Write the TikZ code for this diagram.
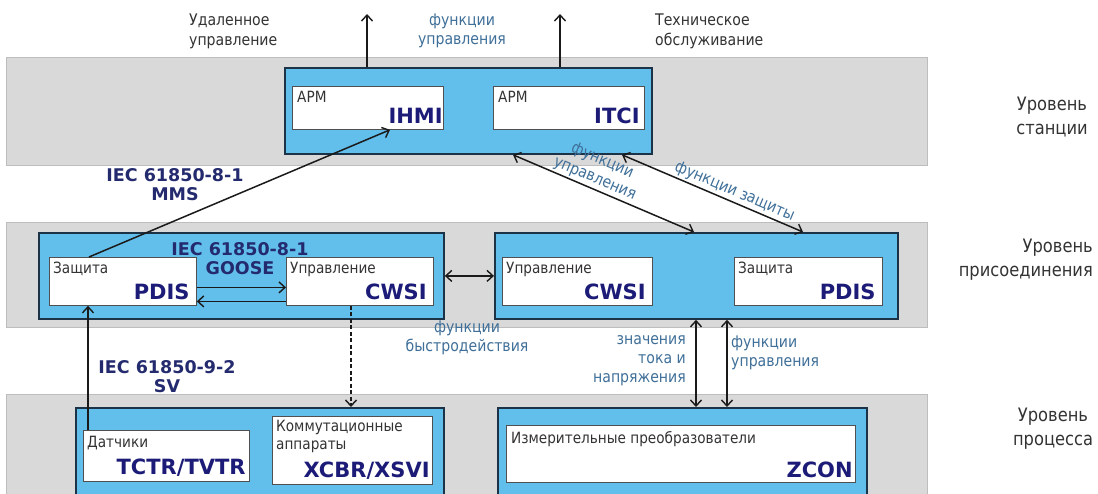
\documentclass[tikz,border=0pt]{standalone}
\usepackage{fontspec}
\setmainfont{DejaVu Sans}[FakeStretch=0.88]
\newfontfamily\codefont{DejaVu Sans}
\usetikzlibrary{arrows.meta}
\definecolor{bandfill}{HTML}{D9D9D9}
\definecolor{bandline}{HTML}{BDBDBD}
\definecolor{boxblue}{HTML}{62BFEC}
\definecolor{boxline}{HTML}{1B3247}
\definecolor{wline}{HTML}{505050}
\definecolor{arrline}{HTML}{1A1A1A}
\definecolor{navy}{HTML}{1C1C78}
\definecolor{iecnavy}{HTML}{232A6E}
\definecolor{steel}{HTML}{3F6F98}
\definecolor{txtgray}{HTML}{333333}
\tikzset{
  band/.style={draw=bandline, fill=bandfill, line width=0.8pt, anchor=north west, inner sep=0pt},
  bluebox/.style={draw=boxline, fill=boxblue, line width=1.8pt, anchor=north west, inner sep=0pt},
  wbox/.style={draw=wline, fill=white, line width=0.8pt, anchor=north west, inner sep=0pt},
  tip/.tip={Straight Barb[length=6pt,width=11pt,line width=1.4pt]},
  arr/.style={draw=arrline, line width=1.5pt, -tip},
  darr/.style={draw=arrline, line width=1.5pt, tip-tip},
  smalltxt/.style={font=\fontsize{15.5}{18}\selectfont, text=txtgray, inner sep=0pt},
  toptxt/.style={font=\fontsize{16}{20}\selectfont, text=txtgray, inner sep=0pt},
  steeltxt/.style={font=\fontsize{16}{19}\selectfont, text=steel, inner sep=0pt},
  leveltxt/.style={font=\fontsize{18.5}{24}\selectfont, text=txtgray, inner sep=0pt},
  code/.style={font=\codefont\bfseries\fontsize{21}{22}\selectfont, text=navy, inner sep=0pt},
  iec/.style={font=\codefont\bfseries\fontsize{17.5}{19}\selectfont, text=iecnavy, inner sep=0pt, align=center},
}
\begin{document}
\begin{tikzpicture}[x=1pt,y=-1pt]
\useasboundingbox (0,0) rectangle (1098,493);
\clip (0,0) rectangle (1098,493);
% bands
\node[band, minimum width=921pt, minimum height=108pt] (band1) at (6,57) {};
\node[band, minimum width=921pt, minimum height=105pt] (band2) at (6,222) {};
\node[band, minimum width=921pt, minimum height=120pt] (band3) at (6,394) {};
% station level
\node[bluebox, minimum width=367pt, minimum height=86pt] (station) at (284,67) {};
\node[wbox, minimum width=151pt, minimum height=43pt] (ihmi) at (292,86) {};
\node[wbox, minimum width=151pt, minimum height=43pt] (itci) at (493,86) {};
% bay level
\node[bluebox, minimum width=405pt, minimum height=86pt] (bayL) at (38,232) {};
\node[wbox, minimum width=147pt, minimum height=48pt] (pdisL) at (49,257) {};
\node[wbox, minimum width=147pt, minimum height=48pt] (cwsiL) at (286,257) {};
\node[bluebox, minimum width=403pt, minimum height=86pt] (bayR) at (494,232) {};
\node[wbox, minimum width=150pt, minimum height=48pt] (cwsiR) at (502,257) {};
\node[wbox, minimum width=148pt, minimum height=48pt] (pdisR) at (734,257) {};
% process level
\node[bluebox, minimum width=368pt, minimum height=100pt] (procL) at (75,407) {};
\node[wbox, minimum width=166pt, minimum height=51pt] (sens) at (83,430) {};
\node[wbox, minimum width=160pt, minimum height=68pt] (swit) at (272,416) {};
\node[bluebox, minimum width=369pt, minimum height=100pt] (procR) at (497,407) {};
\node[wbox, minimum width=349pt, minimum height=57pt] (zcon) at (506,425) {};
% box texts
\node[smalltxt, anchor=north west] (t1) at ([xshift=5pt,yshift=-5pt]ihmi.north west) {АРМ};
\node[code, anchor=south east] (c1) at ([xshift=-1pt,yshift=6pt]ihmi.south east) {IHMI};
\node[smalltxt, anchor=north west] (t2) at ([xshift=5pt,yshift=-5pt]itci.north west) {АРМ};
\node[code, anchor=south east] (c2) at ([xshift=-5pt,yshift=6pt]itci.south east) {ITCI};
\node[smalltxt, anchor=north west] (t3) at ([xshift=4pt,yshift=-5pt]pdisL.north west) {Защита};
\node[code, anchor=south east] (c3) at ([xshift=-7pt,yshift=6pt]pdisL.south east) {PDIS};
\node[smalltxt, anchor=north west] (t4) at ([xshift=4pt,yshift=-5pt]cwsiL.north west) {Управление};
\node[code, anchor=south east] (c4) at ([xshift=-7pt,yshift=6pt]cwsiL.south east) {CWSI};
\node[smalltxt, anchor=north west] (t5) at ([xshift=4pt,yshift=-5pt]cwsiR.north west) {Управление};
\node[code, anchor=south east] (c5) at ([xshift=-7pt,yshift=6pt]cwsiR.south east) {CWSI};
\node[smalltxt, anchor=north west] (t6) at ([xshift=4pt,yshift=-5pt]pdisR.north west) {Защита};
\node[code, anchor=south east] (c6) at ([xshift=-7pt,yshift=6pt]pdisR.south east) {PDIS};
\node[smalltxt, anchor=north west] (t7) at ([xshift=4pt,yshift=-6pt]sens.north west) {Датчики};
\node[code, anchor=south east] (c7) at ([xshift=-4pt,yshift=5pt]sens.south east) {TCTR/TVTR};
\node[smalltxt, anchor=north west, align=left] (t8) at ([xshift=4pt,yshift=-4pt]swit.north west) {Коммутационные\\аппараты};
\node[code, anchor=south east] (c8) at ([xshift=-3pt,yshift=5pt]swit.south east) {XCBR/XSVI};
\node[smalltxt, anchor=north west] (t9) at ([xshift=5pt,yshift=-6pt]zcon.north west) {Измерительные преобразователи};
\node[code, anchor=south east] (c9) at ([xshift=-3pt,yshift=5pt]zcon.south east) {ZCON};
% top texts
\node[toptxt, anchor=west, align=left] (remote) at (189,31) {Удаленное\\управление};
\node[steeltxt, align=center] (ctrlfn) at (462,31) {функции\\управления};
\node[toptxt, anchor=west, align=left] (maint) at (655,31) {Техническое\\обслуживание};
% level labels
\node[leveltxt, align=center] (lvl1) at (1052,117) {Уровень\\станции};
\node[leveltxt, align=right, anchor=east] (lvl2) at (1093,260) {Уровень\\присоединения};
\node[leveltxt, align=center] (lvl3) at (1053,429) {Уровень\\процесса};
% protocol labels
\node[iec] (mms) at (175,185) {IEC 61850-8-1\\MMS};
\node[iec] (goose) at (240,259) {IEC 61850-8-1\\GOOSE};
\node[iec] (sv) at (167,377) {IEC 61850-9-2\\SV};
\node[steeltxt, align=center] (fast) at (467,338) {функции\\быстродействия};
\node[steeltxt, align=right, anchor=east] (meas) at (686,361) {значения\\тока и\\напряжения};
\node[steeltxt, align=left, anchor=west] (ctrl2) at (731,353) {функции\\управления};
% coordinates for free ends
\coordinate (top1) at (367,14);
\coordinate (top2) at (560,14);
% connectors
\draw[arr] (station.north -| top1) -- (top1);
\draw[arr] (station.north -| top2) -- (top2);
\draw[arr] ([xshift=40pt]pdisL.north west) -- ([xshift=98pt]ihmi.south west);
\draw[darr] ([xshift=229pt]station.south west) -- node[sloped, above=2pt, steeltxt, align=center, pos=0.43] (lblA) {функции\\управления} ([xshift=200pt]bayR.north west);
\draw[darr] ([xshift=338pt]station.south west) -- node[sloped, above=2pt, steeltxt, pos=0.6] (lblB) {функции защиты} ([xshift=309pt]bayR.north west);
\draw[arr] ([yshift=-6pt]pdisL.east) -- ([yshift=-6pt]pdisL.east -| cwsiL.west);
\draw[arr] ([yshift=-20pt]cwsiL.west) -- ([yshift=-20pt]cwsiL.west -| pdisL.east);
\draw[darr] (bayL.east) -- (bayL.east -| bayR.west);
\draw[arr, line width=1.1pt, dash pattern=on 4pt off 2.5pt] ([xshift=65pt]cwsiL.south west) -- ([xshift=65pt]cwsiL.south west |- procL.north);
\draw[arr] ([xshift=5pt]sens.north west) -- ([xshift=5pt]sens.north west |- pdisL.south);
\draw[darr] ([xshift=202pt]bayR.south west) -- ([xshift=202pt]bayR.south west |- procR.north);
\draw[darr] ([xshift=233pt]bayR.south west) -- ([xshift=233pt]bayR.south west |- procR.north);
\end{tikzpicture}
\end{document}
